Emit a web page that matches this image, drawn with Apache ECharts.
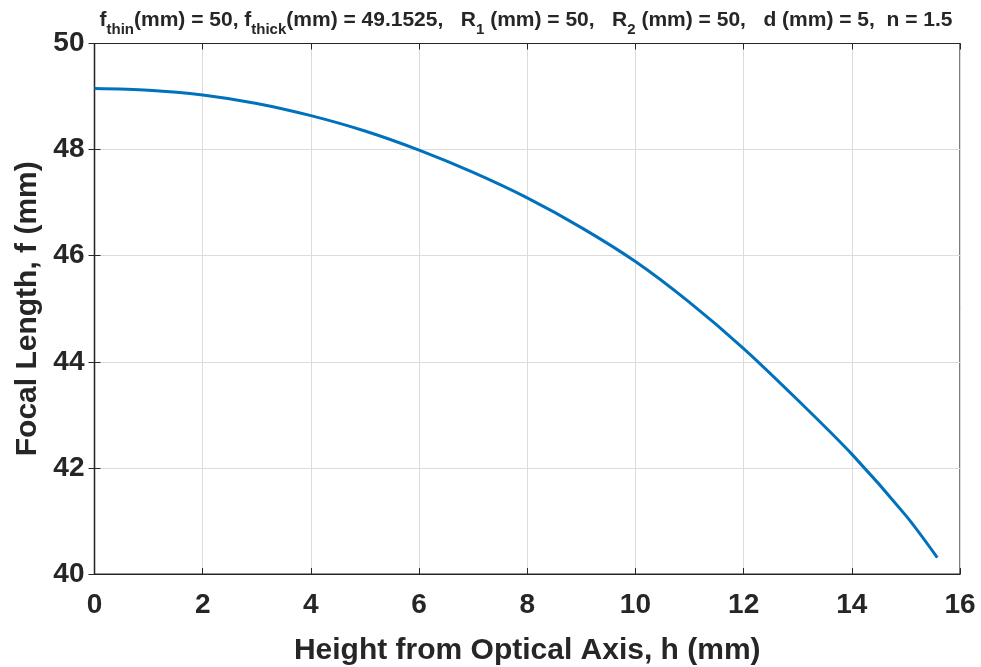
<!DOCTYPE html>
<html>
<head>
<meta charset="utf-8">
<script src="https://cdn.jsdelivr.net/npm/echarts@6/dist/echarts.min.js"></script>
<style>
  html,body{margin:0;padding:0;background:#fff;}
  #main{width:981px;height:667px;}
</style>
</head>
<body>
<div id="main"></div>
<script>
// values
var heights = [0, 1, 2, 3, 4, 5, 6, 7, 8, 9, 10, 11, 12, 13, 14, 15, 15.58];
var focal = [49.15, 49.12, 49.03, 48.87, 48.64, 48.35, 47.99, 47.57, 47.09, 46.53, 45.89, 45.12, 44.25, 43.28, 42.26, 41.10, 40.31];
var xTicks = [0, 2, 4, 6, 8, 10, 12, 14, 16];
var yTicks = [40, 42, 44, 46, 48, 50];

var pts = [];
for (var i = 0; i < heights.length; i++) {
  pts.push([heights[i], focal[i]]);
}

var dark = '#262626';
var font = '"Liberation Sans", Arial, sans-serif';

var myChart = echarts.init(document.getElementById('main'));
var option = {
  animation: false,
  backgroundColor: '#fff',
  title: {
    text: '{b|f}{s|thin}{b|(mm) = 50, f}{s|thick}{b|(mm) = 49.1525,   R}{s|1}{b| (mm) = 50,   R}{s|2}{b| (mm) = 50,   d (mm) = 5,  n = 1.5}',
    left: 521,
    textAlign: 'center',
    top: 5,
    textStyle: {
      rich: {
        b: { fontFamily: font, fontWeight: 'bold', fontSize: 21, color: dark, lineHeight: 26, verticalAlign: 'top' },
        s: { fontFamily: font, fontWeight: 'bold', fontSize: 15, color: dark, lineHeight: 26, padding: [13, 0, 0, 0] }
      }
    }
  },
  grid: {
    left: 94.5,
    right: 21,
    top: 43.5,
    bottom: 93,
    outerBoundsMode: 'none',
    containLabel: false,
    show: true,
    borderColor: dark,
    borderWidth: 1.2
  },
  xAxis: [{
    type: 'value',
    min: xTicks[0],
    max: xTicks[xTicks.length - 1],
    interval: 2,
    name: 'Height from Optical Axis, h (mm)',
    nameLocation: 'middle',
    nameGap: 62,
    nameTextStyle: { fontFamily: font, fontWeight: 'bold', fontSize: 30, color: dark },
    axisLine: { show: true, lineStyle: { color: dark, width: 1.2 } },
    axisTick: { show: true, inside: true, length: 6, lineStyle: { color: dark } },
    axisLabel: { fontFamily: font, fontWeight: 'bold', fontSize: 28, color: dark, margin: 17 },
    splitLine: { show: true, lineStyle: { color: '#dcdcdc', width: 1 } }
  }, {
    type: 'value',
    position: 'top',
    min: xTicks[0],
    max: xTicks[xTicks.length - 1],
    interval: 2,
    axisLine: { show: true, lineStyle: { color: dark, width: 1.2 } },
    axisTick: { show: true, inside: true, length: 6, lineStyle: { color: dark } },
    axisLabel: { show: false },
    splitLine: { show: false }
  }],
  yAxis: [{
    type: 'value',
    min: yTicks[0],
    max: yTicks[yTicks.length - 1],
    interval: 2,
    name: 'Focal Length, f (mm)',
    nameLocation: 'middle',
    nameGap: 48,
    nameTextStyle: { fontFamily: font, fontWeight: 'bold', fontSize: 30, color: dark },
    axisLine: { show: true, lineStyle: { color: dark, width: 1.2 } },
    axisTick: { show: true, inside: true, length: 6, lineStyle: { color: dark } },
    axisLabel: { fontFamily: font, fontWeight: 'bold', fontSize: 28, color: dark, margin: 10 },
    splitLine: { show: true, lineStyle: { color: '#dcdcdc', width: 1 } }
  }, {
    type: 'value',
    position: 'right',
    min: yTicks[0],
    max: yTicks[yTicks.length - 1],
    interval: 2,
    axisLine: { show: true, lineStyle: { color: dark, width: 1.2 } },
    axisTick: { show: true, inside: true, length: 6, lineStyle: { color: dark } },
    axisLabel: { show: false },
    splitLine: { show: false }
  }],
  series: [{
    type: 'line',
    data: pts,
    smooth: 0.3,
    showSymbol: false,
    lineStyle: { color: '#0072BD', width: 3 },
    itemStyle: { color: '#0072BD' }
  }]
};
myChart.setOption(option);
</script>
</body>
</html>
